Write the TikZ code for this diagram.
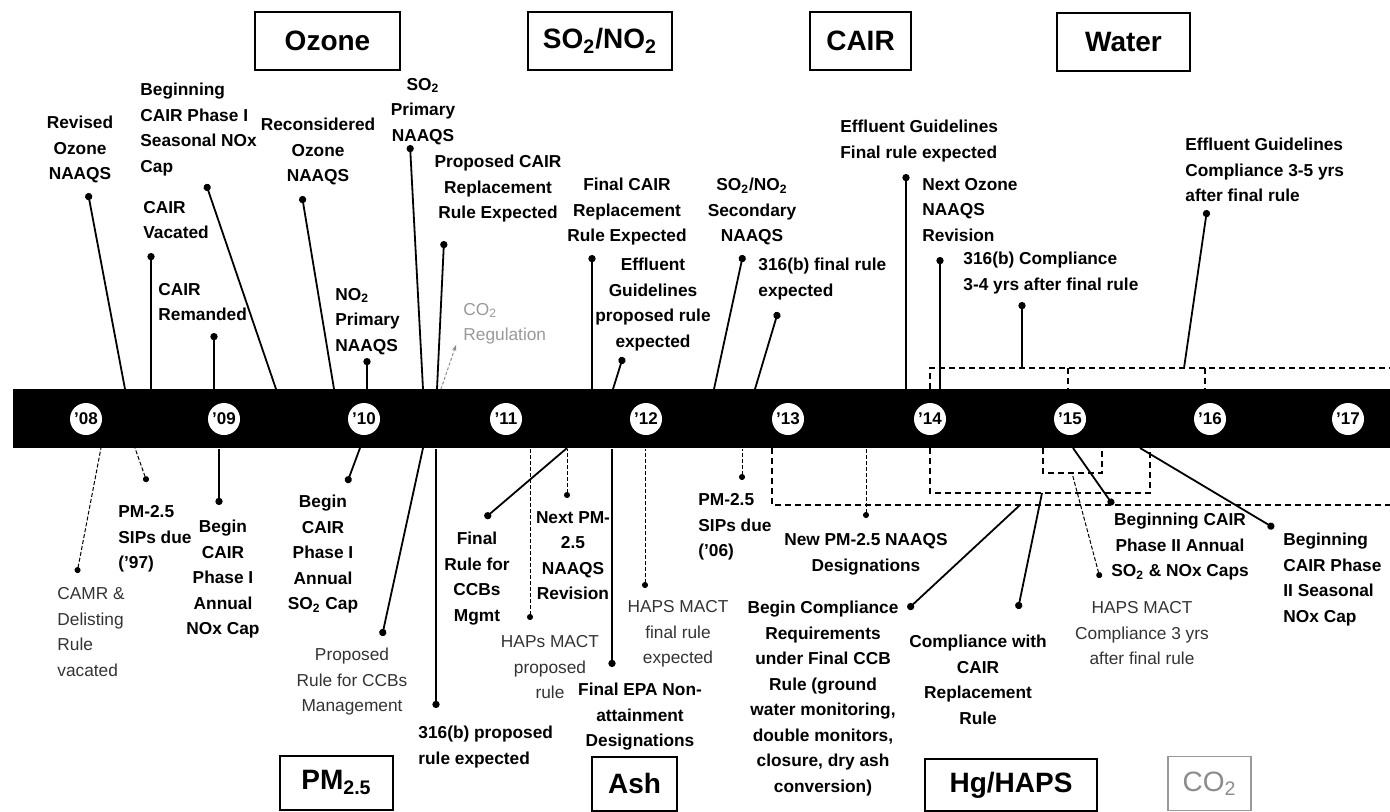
\documentclass[tikz,border=0pt]{standalone}
\usepackage{fontspec}
\setmainfont{Liberation Sans}
\usetikzlibrary{arrows.meta}

\begin{document}
\begin{tikzpicture}[x=0.5pt, y=-0.5pt,
    ev/.style={font=\fontsize{8.65}{12.75}\selectfont\bfseries, inner sep=0pt, align=center, anchor=north},
    evl/.style={ev, align=left, anchor=north west},
    lite/.style={font=\fontsize{8.65}{12.75}\selectfont, text=black!80},
    pin/.style={line width=0.9pt, {Circle[length=3.6pt]}-},
    dpin/.style={line width=0.5pt, dash pattern=on 2pt off 1pt, {Circle[length=3pt]}-},
    brk/.style={line width=0.7pt, dash pattern=on 3pt off 2pt},
    yr/.style={circle, fill=white, inner sep=0pt, minimum size=16pt, font=\fontsize{8.5}{10}\selectfont\bfseries},
    cat/.style={draw, line width=1pt, inner sep=0pt, minimum height=29pt, font=\fontsize{14}{16}\selectfont\bfseries},
]
\useasboundingbox (0,0) rectangle (1390,811);

% the time line
\node[fill=black, inner sep=0pt, minimum width=688.5pt, minimum height=29.5pt, anchor=north west] (bar) at (13,389) {};
\node[yr] (y08) at (86,419) {'08};
\node[yr] (y09) at (224,419) {'09};
\node[yr] (y10) at (364,419) {'10};
\node[yr] (y11) at (506,419) {'11};
\node[yr] (y12) at (646,419) {'12};
\node[yr] (y13) at (788,419) {'13};
\node[yr] (y14) at (930,419) {'14};
\node[yr] (y15) at (1070,419) {'15};
\node[yr] (y16) at (1210,419) {'16};
\node[yr] (y17) at (1348,419) {'17};

% category boxes
\node[cat, minimum width=72.5pt] (ozone) at (327.5,41) {Ozone};
\node[cat, minimum width=72pt] (sono) at (600,41) {SO\textsubscript{2}/NO\textsubscript{2}};
\node[cat, minimum width=50.5pt] (cair) at (860.5,41) {CAIR};
\node[cat, minimum width=66.5pt] (water) at (1123.5,41.5) {Water};
\node[cat, minimum width=56.5pt, minimum height=27pt] (pm) at (336.5,782.5) {PM\textsubscript{2.5}};
\node[cat, minimum width=42.5pt, minimum height=27pt] (ash) at (634.5,783.5) {Ash};
\node[cat, minimum width=86pt, minimum height=26pt] (hg) at (1011,785) {Hg/HAPS};
\node[cat, minimum width=41.5pt, minimum height=27pt, draw=black!40, line width=0.6pt,
      text=black!45, font=\fontsize{14}{16}\selectfont] (cotwo) at (1209.5,783.5) {CO\textsubscript{2}};

% dashed spans
\draw[brk] (930,389) -- (930,368) -- (1392,368);
\draw[brk] (1068,368) -- (1068,389);
\draw[brk] (1205,368) -- (1205,389);
\draw[brk] (930,448) -- (930,493) -- (1150,493) -- (1150,448);
\draw[brk] (1043,448) -- (1043,473) -- (1102,473) -- (1102,448);
\draw[brk] (772,448) -- (772,505) -- (1392,505);

% events above the bar
\node[ev] (revoz) at (80,116) {Revised\\Ozone\\NAAQS};
\node[evl] (seas) at (140,83) {Beginning\\CAIR Phase I\\Seasonal NOx\\Cap};
\node[evl] (vac) at (143,201) {CAIR\\Vacated};
\node[evl] (rem) at (158,283) {CAIR\\Remanded};
\node[ev] (recoz) at (318,118) {Reconsidered\\Ozone\\NAAQS};
\node[evl] (notwo) at (335,288) {NO\textsubscript{2}\\Primary\\NAAQS};
\node[ev] (sotwo) at (423,78) {SO\textsubscript{2}\\Primary\\NAAQS};
\node[ev] (propcair) at (498,155) {Proposed CAIR\\Replacement\\Rule Expected};
\node[evl, lite, text=black!40] (coreg) at (463,303) {CO\textsubscript{2}\\Regulation};
\node[ev] (fincair) at (627,178) {Final CAIR\\Replacement\\Rule Expected};
\node[ev] (effprop) at (653,258) {Effluent\\Guidelines\\proposed rule\\expected};
\node[ev] (sosec) at (752,178) {SO\textsubscript{2}/NO\textsubscript{2}\\Secondary\\NAAQS};
\node[evl] (sfinal) at (758,258) {316(b) final rule\\expected};
\node[evl] (efffin) at (840,120) {Effluent Guidelines\\Final rule expected};
\node[evl] (nextoz) at (922,178) {Next Ozone\\NAAQS\\Revision};
\node[evl] (scomp) at (963,252) {316(b) Compliance\\3-4 yrs after final rule};
\node[evl] (effcomp) at (1185,138) {Effluent Guidelines\\Compliance 3-5 yrs\\after final rule};

\coordinate (revoz-p) at (88,193);     \coordinate (revoz-e) at (125,389);
\coordinate (seas-p) at (206,184);     \coordinate (seas-e) at (276,389);
\coordinate (vac-p) at (151,253);
\coordinate (rem-p) at (214,333);
\coordinate (recoz-p) at (302,196);    \coordinate (recoz-e) at (334,389);
\coordinate (notwo-p) at (367,358);
\coordinate (sotwo-p) at (410,145);    \coordinate (sotwo-e) at (423,389);
\coordinate (propcair-p) at (444,241); \coordinate (propcair-e) at (437,389);
\coordinate (coreg-p) at (456,345);    \coordinate (coreg-e) at (441,389);
\coordinate (fincair-p) at (592,255);
\coordinate (effprop-p) at (623,357);  \coordinate (effprop-e) at (613,389);
\coordinate (sosec-p) at (743,255);    \coordinate (sosec-e) at (714,389);
\coordinate (sfinal-p) at (778,312);   \coordinate (sfinal-e) at (755,389);
\coordinate (efffin-p) at (906,174);
\coordinate (nextoz-p) at (940,257);
\coordinate (scomp-p) at (1022,302);   \coordinate (scomp-e) at (1022,368);
\coordinate (effcomp-p) at (1207,210); \coordinate (effcomp-e) at (1184,368);

\draw[pin] (revoz-p) -- (revoz-e);
\draw[pin] (seas-p) -- (seas-e);
\draw[pin] (vac-p) -- (bar.north -| vac-p);
\draw[pin] (rem-p) -- (bar.north -| rem-p);
\draw[pin] (recoz-p) -- (recoz-e);
\draw[pin] (notwo-p) -- (bar.north -| notwo-p);
\draw[pin] (sotwo-p) -- (sotwo-e);
\draw[pin] (propcair-p) -- (propcair-e);
\draw[line width=0.5pt, black!45, dash pattern=on 1.5pt off 1pt, {Stealth[length=3pt]}-] (coreg-p) -- (coreg-e);
\draw[pin] (fincair-p) -- (bar.north -| fincair-p);
\draw[pin] (effprop-p) -- (effprop-e);
\draw[pin] (sosec-p) -- (sosec-e);
\draw[pin] (sfinal-p) -- (sfinal-e);
\draw[pin] (efffin-p) -- (bar.north -| efffin-p);
\draw[pin] (nextoz-p) -- (bar.north -| nextoz-p);
\draw[pin] (scomp-p) -- (scomp-e);
\draw[pin] (effcomp-p) -- (effcomp-e);

% events below the bar
\node[evl, lite] (camr) at (57,587) {CAMR \&\\Delisting\\Rule\\vacated};
\node[evl] (sipsa) at (118,505) {PM-2.5\\SIPs due\\('97)};
\node[ev] (bnox) at (223,520) {Begin\\CAIR\\Phase I\\Annual\\NOx Cap};
\node[ev] (bsox) at (323,495) {Begin\\CAIR\\Phase I\\Annual\\SO\textsubscript{2} Cap};
\node[ev, lite] (propccb) at (352,648) {Proposed\\Rule for CCBs\\Management};
\node[evl] (sprop) at (418,726) {316(b) proposed\\rule expected};
\node[ev] (finccb) at (477,532) {Final\\Rule for\\CCBs\\Mgmt};
\node[ev] (nextpm) at (573,511) {Next PM-\\2.5\\NAAQS\\Revision};
\node[ev, lite] (happrop) at (550,635) {HAPs MACT\\proposed\\rule};
\node[ev] (finepa) at (640,683) {Final EPA Non-\\attainment\\Designations};
\node[ev, lite] (hapfin) at (678,600) {HAPS MACT\\final rule\\expected};
\node[evl] (sipsb) at (698,493) {PM-2.5\\SIPs due\\('06)};
\node[ev] (newpm) at (866,533) {New PM-2.5 NAAQS\\Designations};
\node[ev] (bcomp) at (823,601) {Begin Compliance\\Requirements\\under Final CCB\\Rule (ground\\water monitoring,\\double monitors,\\closure, dry ash\\conversion)};
\node[ev] (compcair) at (978,635) {Compliance with\\CAIR\\Replacement\\Rule};
\node[ev] (bphaa) at (1180,513) {Beginning CAIR\\Phase II Annual\\SO\textsubscript{2} \& NOx Caps};
\node[ev, lite] (hapcomp) at (1142,601) {HAPS MACT\\Compliance 3 yrs\\after final rule};
\node[evl] (bphas) at (1283,533) {Beginning\\CAIR Phase\\II Seasonal\\NOx Cap};

\coordinate (camr-p) at (77,573);      \coordinate (camr-e) at (101,448);
\coordinate (sipsa-p) at (147,482);    \coordinate (sipsa-e) at (135,448);
\coordinate (bnox-p) at (219,505);
\coordinate (bsox-p) at (347,483);     \coordinate (bsox-e) at (360,448);
\coordinate (propccb-p) at (382,636);  \coordinate (propccb-e) at (423,448);
\coordinate (sprop-p) at (436,708);
\coordinate (finccb-p) at (485,518);   \coordinate (finccb-e) at (567,448);
\coordinate (nextpm-p) at (567,498);
\coordinate (happrop-p) at (530,620);
\coordinate (finepa-p) at (612,667);
\coordinate (hapfin-p) at (645,588);
\coordinate (sipsb-p) at (742,480);
\coordinate (newpm-p) at (866,518);
\coordinate (bcomp-p) at (908,609);    \coordinate (bcomp-e) at (1020,505);
\coordinate (compcair-p) at (1018,609); \coordinate (compcair-e) at (1042,493);
\coordinate (bphaa-p) at (1113,505);   \coordinate (bphaa-e) at (1073,448);
\coordinate (hapcomp-p) at (1100,578); \coordinate (hapcomp-e) at (1072,473);
\coordinate (bphas-p) at (1274,528);   \coordinate (bphas-e) at (1140,448);

\draw[dpin] (camr-p) -- (camr-e);
\draw[dpin] (sipsa-p) -- (sipsa-e);
\draw[pin] (bnox-p) -- (bar.south -| bnox-p);
\draw[pin] (bsox-p) -- (bsox-e);
\draw[pin] (propccb-p) -- (propccb-e);
\draw[pin] (sprop-p) -- (bar.south -| sprop-p);
\draw[pin] (finccb-p) -- (finccb-e);
\draw[dpin] (nextpm-p) -- (bar.south -| nextpm-p);
\draw[dpin] (happrop-p) -- (bar.south -| happrop-p);
\draw[pin] (finepa-p) -- (bar.south -| finepa-p);
\draw[dpin] (hapfin-p) -- (bar.south -| hapfin-p);
\draw[dpin] (sipsb-p) -- (bar.south -| sipsb-p);
\draw[dpin] (newpm-p) -- (bar.south -| newpm-p);
\draw[pin] (bcomp-p) -- (bcomp-e);
\draw[pin] (compcair-p) -- (compcair-e);
\draw[pin] (bphaa-p) -- (bphaa-e);
\draw[dpin] (hapcomp-p) -- (hapcomp-e);
\draw[pin] (bphas-p) -- (bphas-e);
\end{tikzpicture}
\end{document}
